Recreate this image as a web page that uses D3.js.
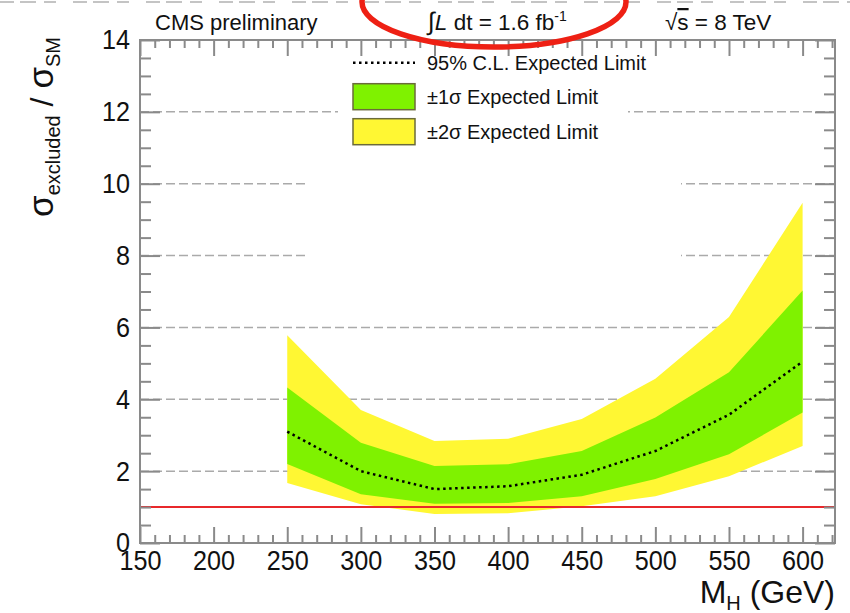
<!DOCTYPE html>
<html>
<head>
<meta charset="utf-8">
<script src="https://cdn.jsdelivr.net/npm/d3@7"></script>
<style>
  body { margin: 0; background: #fff; }
  svg text { font-family: "Liberation Sans", Arial, Helvetica, sans-serif; fill: #111; }
</style>
</head>
<body>
<div id="chart"></div>
<script>
// Higgs mass points (GeV) and expected limit bands (sigma_excluded / sigma_SM)
const masses = [250, 300, 350, 400, 450, 500, 550, 600];
const expected = [3.10, 2.00, 1.50, 1.58, 1.90, 2.56, 3.57, 5.05];
const band1Up = [4.33, 2.79, 2.14, 2.19, 2.56, 3.49, 4.75, 7.03];
const band1Down = [2.20, 1.36, 1.09, 1.11, 1.30, 1.78, 2.47, 3.63];
const band2Up = [5.78, 3.70, 2.84, 2.90, 3.45, 4.57, 6.29, 9.47];
const band2Down = [1.67, 1.08, 0.81, 0.83, 1.02, 1.30, 1.86, 2.70];

const xMajorTicks = [150, 200, 250, 300, 350, 400, 450, 500, 550, 600];
const yMajorTicks = [0, 2, 4, 6, 8, 10, 12, 14];
const smLine = 1;

const legendLabels = ['95% C.L. Expected Limit', '\u00b11\u03c3 Expected Limit', '\u00b12\u03c3 Expected Limit'];

const width = 850, height = 613;
const margin = {top: 40, right: 15, bottom: 70, left: 140};
const innerW = width - margin.left - margin.right;
const innerH = height - margin.top - margin.bottom;

const svg = d3.select('#chart').append('svg')
    .attr('width', width)
    .attr('height', height);

const x = d3.scaleLinear().domain([150, 622]).range([0, innerW]);
const y = d3.scaleLinear().domain([0, 14]).range([innerH, 0]);

// cut-off remains of the plot above this one
svg.append('line')
    .attr('x1', 0).attr('x2', width)
    .attr('y1', 2).attr('y2', 2)
    .attr('stroke', '#c4c4c4')
    .attr('stroke-width', 2)
    .attr('stroke-dasharray', '14,6,16,8,12,17');

const chart = svg.append('g')
    .attr('transform', `translate(${margin.left},${margin.top})`);

// dashed grid lines
chart.append('g')
    .selectAll('line')
    .data(yMajorTicks.filter(d => d > 0 && d < 14))
    .join('line')
    .attr('x1', 0).attr('x2', innerW)
    .attr('y1', d => y(d)).attr('y2', d => y(d))
    .attr('stroke', '#aaa')
    .attr('stroke-width', 1.5)
    .attr('stroke-dasharray', '9,4');

// white legend panes hide the grid behind them
chart.append('rect')
    .attr('x', 198).attr('y', 5)
    .attr('width', 290).attr('height', 105)
    .attr('fill', '#fff');
chart.append('rect')
    .attr('x', 165).attr('y', 110)
    .attr('width', 376).attr('height', 120)
    .attr('fill', '#fff');

const area = (lo, hi) => d3.area()
    .x((d, i) => x(masses[i]))
    .y0((d, i) => y(lo[i]))
    .y1((d, i) => y(hi[i]));

chart.append('path')
    .datum(masses)
    .attr('d', area(band2Down, band2Up))
    .attr('fill', '#fff733');

chart.append('path')
    .datum(masses)
    .attr('d', area(band1Down, band1Up))
    .attr('fill', '#7ff200');

chart.append('path')
    .datum(masses)
    .attr('d', d3.line().x((d, i) => x(masses[i])).y((d, i) => y(expected[i])))
    .attr('fill', 'none')
    .attr('stroke', '#000')
    .attr('stroke-width', 2.5)
    .attr('stroke-dasharray', '2.5,3.5');

// SM reference line
chart.append('line')
    .attr('x1', 0).attr('x2', innerW)
    .attr('y1', y(smLine)).attr('y2', y(smLine))
    .attr('stroke', '#e8282b')
    .attr('stroke-width', 2);

// axes: major and minor ticks drawn inward on all four sides
const xMinor = d3.range(150, 623, 10).filter(d => d % 50 !== 0);
const yMinor = d3.range(0, 14.01, 0.5).filter(d => d % 2 !== 0);
const axisColor = '#8a8a8a';

function styleAxis(g) {
  g.select('.domain').remove();
  g.selectAll('line').attr('stroke', axisColor).attr('stroke-width', 2);
  g.selectAll('text')
      .attr('transform', 'scale(0.9,1)')
      .style('font-size', '28px')
      .style('font-family', '"Liberation Sans", Arial, sans-serif')
      .attr('fill', '#111');
}

chart.append('g')
    .attr('transform', `translate(0,${innerH})`)
    .call(d3.axisBottom(x).tickValues(xMajorTicks).tickSizeInner(-16).tickSizeOuter(0).tickPadding(7).tickFormat(d3.format('d')))
    .call(styleAxis);
chart.append('g')
    .attr('transform', `translate(0,${innerH})`)
    .call(d3.axisBottom(x).tickValues(xMinor).tickSizeInner(-8).tickSizeOuter(0).tickFormat(''))
    .call(styleAxis);
chart.append('g')
    .call(d3.axisTop(x).tickValues(xMajorTicks).tickSizeInner(-16).tickSizeOuter(0).tickFormat(''))
    .call(styleAxis);
chart.append('g')
    .call(d3.axisTop(x).tickValues(xMinor).tickSizeInner(-8).tickSizeOuter(0).tickFormat(''))
    .call(styleAxis);

chart.append('g')
    .call(d3.axisLeft(y).tickValues(yMajorTicks).tickSizeInner(-20).tickSizeOuter(0).tickPadding(11).tickFormat(d3.format('d')))
    .call(styleAxis);
chart.append('g')
    .call(d3.axisLeft(y).tickValues(yMinor).tickSizeInner(-11).tickSizeOuter(0).tickFormat(''))
    .call(styleAxis);
chart.append('g')
    .attr('transform', `translate(${innerW},0)`)
    .call(d3.axisRight(y).tickValues(yMajorTicks).tickSizeInner(-20).tickSizeOuter(0).tickFormat(''))
    .call(styleAxis);
chart.append('g')
    .attr('transform', `translate(${innerW},0)`)
    .call(d3.axisRight(y).tickValues(yMinor).tickSizeInner(-11).tickSizeOuter(0).tickFormat(''))
    .call(styleAxis);

// frame
chart.append('rect')
    .attr('width', innerW).attr('height', innerH)
    .attr('fill', 'none')
    .attr('stroke', axisColor)
    .attr('stroke-width', 2);

// axis titles
const xTitle = svg.append('text')
    .attr('x', margin.left + innerW)
    .attr('y', 603)
    .attr('text-anchor', 'end')
    .style('font-size', '32px');
xTitle.append('tspan').text('M');
xTitle.append('tspan').attr('dy', 7).style('font-size', '20px').text('H');
xTitle.append('tspan').attr('dy', -7).text(' (GeV)');

const yTitle = svg.append('text')
    .attr('transform', `translate(53,${margin.top - 3}) rotate(-90)`)
    .attr('text-anchor', 'end')
    .style('font-size', '32px');
yTitle.append('tspan').style('font-size', '35px').text('\u03c3');
yTitle.append('tspan').attr('dy', 7).style('font-size', '20px').text('excluded');
yTitle.append('tspan').attr('dy', -7).text(' / ');
yTitle.append('tspan').style('font-size', '35px').text('\u03c3');
yTitle.append('tspan').attr('dy', 7).style('font-size', '20px').text('SM');

// header texts
svg.append('text')
    .attr('x', 155).attr('y', 30)
    .style('font-size', '22px')
    .text('CMS preliminary');

const lumi = svg.append('text')
    .attr('x', 428).attr('y', 30)
    .style('font-size', '22.5px');
lumi.append('tspan').style('font-size', '25px').text('\u222b');
lumi.append('tspan').style('font-style', 'italic').text('L');
lumi.append('tspan').text(' dt = 1.6 fb');
lumi.append('tspan').attr('dy', -9).style('font-size', '14px').text('-1');

const energy = svg.append('text')
    .attr('x', 665).attr('y', 30)
    .style('font-size', '22.5px');
energy.append('tspan').text('\u221a');
energy.append('tspan').style('text-decoration', 'overline').text('s');
energy.append('tspan').text(' = 8 TeV');

// legend
const legend = svg.append('g');
const legendRows = [62.7, 96.7, 131.7];

legend.append('line')
    .attr('x1', 353).attr('x2', 415)
    .attr('y1', legendRows[0]).attr('y2', legendRows[0])
    .attr('stroke', '#000')
    .attr('stroke-width', 2.5)
    .attr('stroke-dasharray', '2.5,3.5');

legend.selectAll('rect')
    .data(['#7ff200', '#fff733'])
    .join('rect')
    .attr('x', 353)
    .attr('y', (d, i) => legendRows[i + 1] - 13)
    .attr('width', 62)
    .attr('height', 26)
    .attr('fill', d => d)
    .attr('stroke', '#6b6b3a')
    .attr('stroke-width', 1.5);

legend.selectAll('text')
    .data(legendLabels)
    .join('text')
    .attr('x', 427)
    .attr('y', (d, i) => legendRows[i] + 7)
    .style('font-size', '20px')
    .text(d => d);

// red annotation ellipse
svg.append('ellipse')
    .attr('cx', 494).attr('cy', 2)
    .attr('rx', 132).attr('ry', 45)
    .attr('fill', 'none')
    .attr('stroke', '#ee2014')
    .attr('stroke-width', 5.5);
</script>
</body>
</html>
